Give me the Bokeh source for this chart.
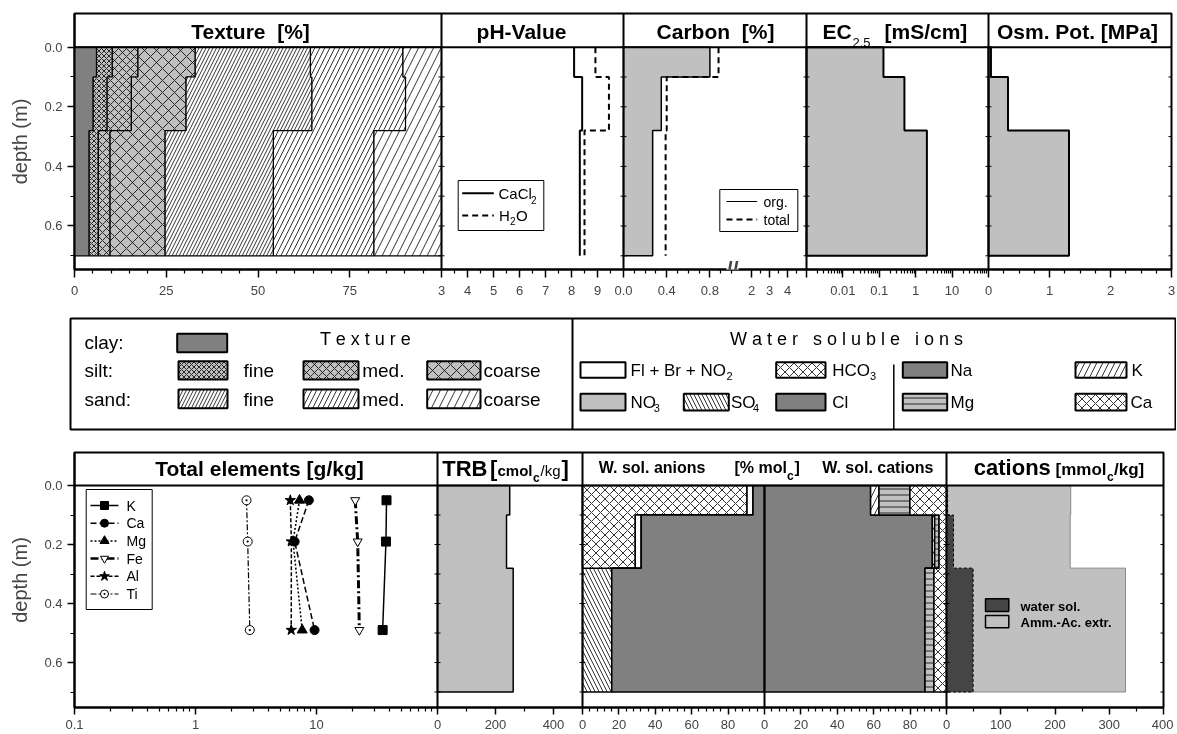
import json
import numpy as np
from bokeh.plotting import figure
from bokeh.models import (Range1d, LogScale, FixedTicker, CustomJSTickFormatter, Span, Label,
                          ColumnDataSource, InlineStyleSheet)
from bokeh.layouts import column
from bokeh.embed import file_html
from bokeh.resources import INLINE
from bokeh.core.properties import value

FONT = "Liberation Sans"
LG, DG, XG = "#c0c0c0", "#808080", "#454545"
NB = "\u00a0"

# ======================= DATA =======================
layer_top = [0.0, 0.1, 0.28]
layer_bot = [0.1, 0.28, 0.7]

# texture fractions [%] per layer
clay = [6.0, 5.1, 4.0]
silt_fine = [4.3, 3.8, 2.5]
silt_med = [7.0, 6.6, 3.2]
silt_coarse = [15.6, 14.9, 15.0]
sand_fine = [31.4, 34.3, 29.5]
sand_med = [25.2, 25.5, 27.4]
sand_coarse = [10.5, 9.8, 18.4]

ph_cacl2 = [8.10, 8.41, 8.32]
ph_h2o = [8.92, 9.44, 8.50]
c_org = [0.80, 0.35, 0.27]
c_total = [0.88, 0.40, 0.39]
ec25 = [0.13, 0.49, 2.03]
osm_pot = [0.04, 0.32, 1.32]

elem_depth = [0.05, 0.19, 0.49]
el_K = [37.9, 37.5, 35.2]
el_Ca = [8.65, 6.6, 9.64]
el_Mg = [7.24, 6.4, 7.62]
el_Fe = [20.9, 21.9, 22.6]
el_Al = [6.07, 6.2, 6.18]
el_Ti = [2.64, 2.7, 2.81]

trb = [249, 238, 261]

an_so4 = [0.0, 0.0, 16.1]
an_hco3 = [90.4, 29.0, 0.0]
an_flbrno2 = [3.3, 3.3, 0.0]
an_no3 = [0.0, 0.0, 0.0]
an_cl = [6.3, 67.7, 83.9]

cat_na = [58.3, 92.2, 88.2]
cat_k = [4.6, 1.3, 0.0]
cat_mg = [17.0, 2.4, 4.9]
cat_ca = [20.1, 4.1, 6.9]

cat_water = [2.0, 12.9, 49.0]
cat_ammac = [229.0, 228.0, 330.0]

# tick values
depth_major = [0.0, 0.2, 0.4, 0.6]
depth_minor = [0.1, 0.3, 0.5, 0.7]
tex_ticks = [0, 25, 50, 75]
ph_ticks = [3, 4, 5, 6, 7, 8, 9]
carb_ticks_lo = [0.0, 0.4, 0.8]
carb_ticks_hi = [2, 3, 4]
ec_ticks = [0.01, 0.1, 1, 10]
osm_ticks = [0, 1, 2, 3]
tot_ticks = [0.1, 1, 10]
trb_ticks = [0, 200, 400]
ion_ticks = [0, 20, 40, 60, 80]
cat_ticks = [0, 100, 200, 300, 400]

# ======================= GEOMETRY (page px) =======================
ROOT_X = 6
TOP_L, TOP_R = 74, 1171
BOT_L, BOT_R = 74, 1163
P_TEX = dict(a=0, b=100, L=74, R=441, log=False)
P_PH = dict(a=3, b=10, L=441, R=623, log=False)
P_CARB = dict(a=0, b=183 / 108, L=623, R=806, log=False)
P_CARBHI = dict(a=1, b=5, L=733, R=805, log=False)
P_EC = dict(a=0.001, b=100, L=806, R=988, log=True)
P_OSM = dict(a=0, b=3, L=988, R=1171, log=False)
P_TOT = dict(a=0.1, b=100, L=74, R=437, log=True)
P_TRB = dict(a=0, b=500, L=437, R=582, log=False)
P_ION = dict(a=0, b=200, L=582, R=946, log=False)
P_CAT = dict(a=0, b=400, L=946, R=1163, log=False)


def to_px(v, P):
    if P["log"]:
        f = (np.log10(v) - np.log10(P["a"])) / (np.log10(P["b"]) - np.log10(P["a"]))
    else:
        f = (v - P["a"]) / (P["b"] - P["a"])
    return float(P["L"] + f * (P["R"] - P["L"]))


def panel_range(P, F0, F1):
    if P["log"]:
        la, lb = np.log10(P["a"]), np.log10(P["b"])
        s = (lb - la) / (P["R"] - P["L"])
        return Range1d(float(10 ** (la - (P["L"] - F0) * s)), float(10 ** (lb + (F1 - P["R"]) * s)))
    s = (P["b"] - P["a"]) / (P["R"] - P["L"])
    return Range1d(float(P["a"] - (P["L"] - F0) * s), float(P["b"] + (F1 - P["R"]) * s))


def axis_ticks(major, minor):
    major = [(round(float(px), 2), lab) for px, lab in major]
    m = {f"{px:.2f}": lab for px, lab in major}
    ticker = FixedTicker(ticks=[px for px, _ in major], minor_ticks=[round(float(x), 2) for x in minor])
    fmt = CustomJSTickFormatter(code="const m = " + json.dumps(m) +
                                "; const k = tick.toFixed(2); return (k in m) ? m[k] : '';")
    return ticker, fmt


def step_xy(vals):
    xs, ys = [], []
    for v, t, b in zip(vals, layer_top, layer_bot):
        xs += [v, v]
        ys += [t, b]
    return xs, ys


def stacked_polys(series, base=0.0):
    cum = [base] * len(layer_top)
    out_x, out_y = [], []
    for s in series:
        new = [c + v for c, v in zip(cum, s)]
        rx, ry = step_xy(new)
        lx, ly = step_xy(cum)
        out_x.append(rx + lx[::-1])
        out_y.append(ry + ly[::-1])
        cum = new
    return out_x, out_y


def profile_poly(vals, base):
    sx, sy = step_xy(vals)
    return [base] + sx + [base], [layer_top[0]] + sy + [layer_bot[-1]]


def txt(p, x, y, s, size, bold=False, align="left", yr="py"):
    kw = dict(y_range_name=yr) if yr else {}
    p.text(x=[x], y=[y], text=[s], text_font=value(FONT), text_font_size=value(f"{size}px"),
           text_font_style="bold" if bold else "normal", text_align=align,
           text_baseline="middle", text_color="black", **kw)


def no_align(p):
    if "frame_align" in p.properties():
        p.frame_align = False


def style_axis(ax, standoff, tick_out=8):
    ax.axis_line_width = 2
    ax.axis_line_color = "black"
    ax.major_tick_line_width = 1.5
    ax.minor_tick_line_width = 1.2
    ax.major_tick_out = tick_out
    ax.major_tick_in = 0
    ax.minor_tick_out = 4
    ax.minor_tick_in = 0
    ax.major_label_text_font = FONT
    ax.major_label_text_font_size = "13px"
    ax.major_label_standoff = standoff


def base_fig(F0, F1, y0, y1, yr, left, right, top, bottom, standoff):
    p = figure(frame_width=F1 - F0, frame_height=y1 - y0, x_range=Range1d(F0, F1), y_range=yr,
               min_border_left=left, min_border_right=right, min_border_top=top,
               min_border_bottom=bottom, output_backend="svg", toolbar_location=None, title=None)
    no_align(p)
    p.grid.visible = False
    p.outline_line_color = "black"
    p.outline_line_width = 2
    p.background_fill_color = "white"
    p.border_fill_color = "white"
    p.extra_y_ranges = {"py": Range1d(y1, y0)}
    style_axis(p.xaxis[0], standoff)
    style_axis(p.yaxis[0], 5, 7)
    p.yaxis.ticker = FixedTicker(ticks=depth_major, minor_ticks=depth_minor)
    p.yaxis.formatter = CustomJSTickFormatter(code="return tick.toFixed(1);")
    p.yaxis.axis_label = "depth (m)"
    p.yaxis.axis_label_text_font = FONT
    p.yaxis.axis_label_text_font_size = "20px"
    p.yaxis.axis_label_text_font_style = "normal"
    p.yaxis.axis_label_standoff = 10
    return p


# ======================= TOP ROW =======================
top = base_fig(TOP_L, TOP_R, 13, 269, Range1d(0.746, -0.113), TOP_L - ROOT_X, 6, 5, 35, 8)
top.extra_x_ranges = {k: panel_range(P, TOP_L, TOP_R) for k, P in
                      [("tex", P_TEX), ("ph", P_PH), ("carb", P_CARB), ("ec", P_EC), ("osm", P_OSM)]}
top.extra_x_scales = {"ec": LogScale()}

tmaj, tmin = [], []
tmaj += [(to_px(v, P_TEX), str(v)) for v in tex_ticks]
tmin += [to_px(v, P_TEX) for v in range(5, 100, 5) if v % 25]
tmaj += [(to_px(v, P_PH), str(v)) for v in ph_ticks]
tmin += [to_px(v + 0.5, P_PH) for v in ph_ticks]
tmaj += [(to_px(v, P_CARB), f"{v:.1f}") for v in carb_ticks_lo]
tmin += [to_px(v / 10, P_CARB) for v in range(1, 11) if v not in (4, 8)]
tmaj += [(to_px(v, P_CARBHI), str(v)) for v in carb_ticks_hi]
tmin += [to_px(v + 0.5, P_CARBHI) for v in carb_ticks_hi]
tmaj += [(to_px(P_EC["a"], P_EC), "")]
tmaj += [(to_px(v, P_EC), f"{v:g}") for v in ec_ticks]
tmin += [to_px(k * 10.0 ** e, P_EC) for e in range(-3, 2) for k in range(2, 10)]
tmaj += [(to_px(v, P_OSM), str(v)) for v in osm_ticks]
tmin += [to_px(v / 4, P_OSM) for v in range(1, 12) if v % 4]
tk, tf = axis_ticks(tmaj, tmin)
top.xaxis.ticker = tk
top.xaxis.formatter = tf

# texture
tex_series = [clay, silt_fine, silt_med, silt_coarse, sand_fine, sand_med, sand_coarse]
tx, ty = stacked_polys(tex_series)
top.patches(xs="xs", ys="ys", x_range_name="tex",
            source=ColumnDataSource(dict(
                xs=tx, ys=ty,
                fill=[DG, LG, LG, LG, "white", "white", "white"],
                hatch=["blank", "diagonal_cross", "diagonal_cross", "diagonal_cross",
                       "right_diagonal_line", "right_diagonal_line", "right_diagonal_line"],
                hs=[1, 5, 8, 12, 7, 10, 15])),
            fill_color="fill", hatch_pattern="hatch", hatch_scale="hs", hatch_color="black",
            hatch_weight=0.8, line_color="black", line_width=1.2)

# pH
x, y = step_xy(ph_cacl2)
top.line(x, y, x_range_name="ph", line_color="black", line_width=2)
x, y = step_xy(ph_h2o)
top.line(x, y, x_range_name="ph", line_color="black", line_width=2, line_dash="6 4")

# carbon
x, y = profile_poly(c_org, P_CARB["a"])
top.patch(x, y, x_range_name="carb", fill_color=LG, line_color="black", line_width=1.5)
x, y = step_xy(c_total)
top.line(x, y, x_range_name="carb", line_color="black", line_width=2, line_dash="6 4")

# EC
x, y = profile_poly(ec25, P_EC["a"])
top.patch(x, y, x_range_name="ec", fill_color=LG, line_color="black", line_width=2)
# osmotic potential
x, y = profile_poly(osm_pot, P_OSM["a"])
top.patch(x, y, x_range_name="osm", fill_color=LG, line_color="black", line_width=2)

# frame furniture
top.add_layout(Span(location=0, dimension="width", line_color="black", line_width=2))
for B in (441, 623, 806, 988):
    top.add_layout(Span(location=B, dimension="height", line_color="black", line_width=2))
dt = depth_major + depth_minor
sx0, sx1, sy = [], [], []
for B in (441, 623, 806, 988):
    for d in dt:
        sx0.append(B - 3); sx1.append(B + 3); sy.append(d)
for d in dt:
    sx0.append(TOP_R - 3); sx1.append(TOP_R); sy.append(d)
top.segment(x0=sx0, y0=sy, x1=sx1, y1=sy, line_color="black", line_width=1)

top.add_layout(Label(x=to_px(1.0, P_CARB) + 1, y=269, y_range_name="py", text="//",
                     text_font=FONT, text_font_size="22px", text_font_style="bold",
                     text_align="center", text_baseline="middle", background_fill_color="white"))

# titles
txt(top, 250, 30.5, "Texture" + NB + NB + "[%]", 21, True, "center")
txt(top, 521, 30.5, "pH-Value", 21, True, "center")
txt(top, 715, 30.5, "Carbon" + NB + NB + "[%]", 21, True, "center")
txt(top, 822, 30.5, "EC", 21, True)
txt(top, 852, 42, "2.5", 13)
txt(top, 884, 30.5, "[mS/cm]", 21, True)
txt(top, 1077, 30.5, "Osm. Pot. [MPa]", 21, True, "center")

# pH legend
top.quad(left=[457.7], right=[543.3], top=[180], bottom=[230], y_range_name="py",
         fill_color="white", line_color="black", line_width=1)
top.line([461.7, 493.3], [192.7, 192.7], y_range_name="py", line_color="black", line_width=2)
top.line([461.7, 493.3], [215, 215], y_range_name="py", line_color="black", line_width=2, line_dash="6 4")
txt(top, 498, 192.7, "CaCl", 15)
txt(top, 530.5, 199.5, "2", 10)
txt(top, 498.5, 215, "H", 15)
txt(top, 509.5, 220.5, "2", 10)
txt(top, 515.5, 215, "O", 15)

# carbon legend
top.quad(left=[719.3], right=[797.3], top=[189], bottom=[231], y_range_name="py",
         fill_color="white", line_color="black", line_width=1)
top.line([726, 756.7], [201, 201], y_range_name="py", line_color="black", line_width=1)
top.line([726, 756.7], [219, 219], y_range_name="py", line_color="black", line_width=2, line_dash="6 4")
txt(top, 763, 201, "org.", 14)
txt(top, 763, 219, "total", 14)

# ======================= LEGEND BOX =======================
leg = figure(frame_width=1105, frame_height=111, x_range=Range1d(70, 1175), y_range=Range1d(429, 318),
             min_border_left=70 - ROOT_X, min_border_right=1, min_border_top=14, min_border_bottom=2,
             x_axis_location=None, y_axis_location=None, output_backend="svg",
             toolbar_location=None, title=None)
no_align(leg)
leg.grid.visible = False
leg.outline_line_color = "black"
leg.outline_line_width = 2
sw = dict(left=[], right=[], top=[], bottom=[], fill=[], hatch=[], hs=[])


def add_sw(l, r, t, b, fill, hatch="blank", hs=1):
    for k, v in zip(["left", "right", "top", "bottom", "fill", "hatch", "hs"], [l, r, t, b, fill, hatch, hs]):
        sw[k].append(v)


add_sw(176.7, 226.7, 333.3, 351.7, DG)
for (l, r), h in zip([(178, 227), (303, 358), (426.7, 480)], [5, 8, 12]):
    add_sw(l, r, 360.7, 379, LG, "diagonal_cross", h)
for (l, r), h in zip([(178, 227), (303, 358), (426.7, 480)], [7, 10, 15]):
    add_sw(l, r, 389, 407.7, "white", "right_diagonal_line", h)
R1, R2 = (361.7, 377.3), (393.3, 410)
add_sw(580, 625, *R1, "white")
add_sw(775.7, 825, *R1, "white", "diagonal_cross", 9)
add_sw(580, 625, *R2, LG)
add_sw(683.3, 728.3, *R2, "white", "left_diagonal_line", 8)
add_sw(775.7, 825, *R2, DG)
add_sw(902.3, 946.7, *R1, DG)
add_sw(1075, 1126, *R1, "white", "right_diagonal_line", 12)
add_sw(902.3, 946.7, *R2, LG, "horizontal_line", 6)
add_sw(1075, 1126, *R2, "white", "diagonal_cross", 9)
leg.quad(left="left", right="right", top="top", bottom="bottom", source=ColumnDataSource(sw),
         fill_color="fill", hatch_pattern="hatch", hatch_scale="hs", hatch_color="black",
         hatch_weight=0.8, line_color="black", line_width=2)
leg.segment(x0=[572], y0=[318], x1=[572], y1=[429], line_color="black", line_width=2)
leg.segment(x0=[893.3], y0=[364], x1=[893.3], y1=[429], line_color="black", line_width=1.5)

txt(leg, 365, 338, "T e x t u r e", 18, False, "center", None)
txt(leg, 84, 342, "clay:", 19, yr=None)
txt(leg, 84, 370, "silt:", 19, yr=None)
txt(leg, 84, 398.5, "sand:", 19, yr=None)
for yy in (370, 398.5):
    txt(leg, 243, yy, "fine", 19, yr=None)
    txt(leg, 361.7, yy, "med.", 19, yr=None)
    txt(leg, 483, yy, "coarse", 19, yr=None)
ws = (NB * 3).join(" ".join(w) for w in ["Water", "soluble", "ions"])
txt(leg, 846, 338, ws, 18, False, "center", None)
txt(leg, 630, 369.5, "Fl + Br + NO", 17, yr=None)
txt(leg, 726, 375.5, "2", 11, yr=None)
txt(leg, 831.7, 369.5, "HCO", 17, yr=None)
txt(leg, 869.5, 375.5, "3", 11, yr=None)
txt(leg, 630, 401.5, "NO", 17, yr=None)
txt(leg, 653.3, 407.5, "3", 11, yr=None)
txt(leg, 730.5, 401.5, "SO", 17, yr=None)
txt(leg, 752.5, 407.5, "4", 11, yr=None)
txt(leg, 831.7, 401.5, "Cl", 17, yr=None)
txt(leg, 950, 369.5, "Na", 17, yr=None)
txt(leg, 950, 401.5, "Mg", 17, yr=None)
txt(leg, 1131, 369.5, "K", 17, yr=None)
txt(leg, 1130, 401.5, "Ca", 17, yr=None)

# ======================= BOTTOM ROW =======================
bot = base_fig(BOT_L, BOT_R, 452, 707, Range1d(0.7525, -0.112), BOT_L - ROOT_X, 10, 21, 27, 5)
bot.extra_x_ranges = {k: panel_range(P, BOT_L, BOT_R) for k, P in
                      [("tot", P_TOT), ("trb", P_TRB), ("ion", P_ION), ("cat", P_CAT)]}
bot.extra_x_scales = {"tot": LogScale()}

bmaj, bmin = [], []
bmaj += [(to_px(v, P_TOT), f"{v:g}") for v in tot_ticks]
bmin += [to_px(k * 10.0 ** e, P_TOT) for e in range(-1, 2) for k in range(2, 10)]
bmaj += [(to_px(v, P_TRB), str(v)) for v in trb_ticks]
bmin += [to_px(v, P_TRB) for v in (100, 300)]
for off in (0, 100):
    bmaj += [(to_px(v + off, P_ION), str(v)) for v in ion_ticks]
bmin += [to_px(v, P_ION) for v in range(4, 200, 4) if v % 20]
bmaj += [(to_px(v, P_CAT), str(v)) for v in cat_ticks]
bmin += [to_px(v, P_CAT) for v in (50, 150, 250, 350)]
bk, bf = axis_ticks(bmaj, bmin)
bot.xaxis.ticker = bk
bot.xaxis.formatter = bf
bot.xaxis.major_tick_out = 7

# total elements
elems = [("K", el_K, "square", "black", "solid", 1.5, 9),
         ("Ca", el_Ca, "circle", "black", "6 3", 1.5, 9),
         ("Mg", el_Mg, "triangle", "black", "2 2", 1.5, 10),
         ("Fe", el_Fe, "inverted_triangle", "white", "8 3 2 3", 3, 9),
         ("Al", el_Al, "star", "black", "4 2", 1.5, 11),
         ("Ti", el_Ti, "circle_dot", "white", "6 2 2 2", 1.2, 9)]
for i, (name, vals, mk, mf, dash, lw, sz) in enumerate(elems):
    bot.line(vals, elem_depth, x_range_name="tot", line_color="black", line_width=lw, line_dash=dash)
    bot.scatter(vals, elem_depth, x_range_name="tot", marker=mk, size=sz, fill_color=mf,
                line_color="black", line_width=1)
bot.quad(left=[85.7], right=[151.7], top=[489], bottom=[609], y_range_name="py",
         fill_color="white", line_color="black", line_width=1)
for i, (name, vals, mk, mf, dash, lw, sz) in enumerate(elems):
    yy = 505 + i * 17.7
    bot.line([90, 118], [yy, yy], y_range_name="py", line_color="black",
             line_width=min(lw, 2.5), line_dash=dash)
    bot.scatter([104], [yy], y_range_name="py", marker=mk, size=sz - 1, fill_color=mf,
                line_color="black", line_width=1)
    txt(bot, 126, yy, name, 14)

# TRB
x, y = profile_poly(trb, P_TRB["a"])
bot.patch(x, y, x_range_name="trb", fill_color=LG, line_color="black", line_width=1.5)

# anions / cations [% mol_c]
ax_, ay_ = stacked_polys([an_so4, an_hco3, an_flbrno2, an_no3, an_cl], 0.0)
cx_, cy_ = stacked_polys([cat_na, cat_k, cat_mg, cat_ca], 100.0)
bot.patches(xs="xs", ys="ys", x_range_name="ion",
            source=ColumnDataSource(dict(
                xs=ax_ + cx_, ys=ay_ + cy_,
                fill=["white", "white", "white", LG, DG, DG, "white", LG, "white"],
                hatch=["left_diagonal_line", "diagonal_cross", "blank", "blank", "blank",
                       "blank", "right_diagonal_line", "horizontal_line", "diagonal_cross"],
                hs=[8, 9, 1, 1, 1, 1, 12, 6, 9])),
            fill_color="fill", hatch_pattern="hatch", hatch_scale="hs", hatch_color="black",
            hatch_weight=0.8, line_color="black", line_width=1.5)
bot.segment(x0=[100], y0=[0.0], x1=[100], y1=[0.7525], x_range_name="ion",
            line_color="black", line_width=2)

# cations [mmol_c/kg]
x, y = profile_poly(cat_ammac, P_CAT["a"])
bot.patch(x, y, x_range_name="cat", fill_color=LG, line_color="#8a8a8a", line_width=1)
x, y = profile_poly(cat_water, P_CAT["a"])
bot.patch(x, y, x_range_name="cat", fill_color=XG, line_color="black", line_width=1, line_dash="3 2")
bot.quad(left=[985, 985], right=[1008.3, 1008.3], top=[598.3, 615], bottom=[611, 627.3],
         y_range_name="py", fill_color=[XG, LG], line_color="black", line_width=1.5)
txt(bot, 1020, 606, "water sol.", 13, True)
txt(bot, 1020, 621.7, "Amm.-Ac. extr.", 13, True)

bot.add_layout(Span(location=0, dimension="width", line_color="black", line_width=2))
for B in (437, 582, 946):
    bot.add_layout(Span(location=B, dimension="height", line_color="black", line_width=2))
sx0, sx1, sy = [], [], []
for B in (437, 582, 946):
    for d in dt:
        sx0.append(B - 3); sx1.append(B + 3); sy.append(d)
for d in dt:
    sx0.append(BOT_R - 3); sx1.append(BOT_R); sy.append(d)
bot.segment(x0=sx0, y0=sy, x1=sx1, y1=sy, line_color="black", line_width=1)

# titles
txt(bot, 259, 468, "Total elements [g/kg]", 21, True, "center")
txt(bot, 441.7, 467.5, "TRB", 22, True)
txt(bot, 489.5, 467.5, "[", 22, True)
txt(bot, 497, 469.5, "cmol", 15, True)
txt(bot, 532.5, 477, "c", 12, True)
txt(bot, 540, 469.5, "/kg", 15)
txt(bot, 561, 467.5, "]", 22, True)
txt(bot, 598.3, 467, "W. sol. anions", 16, True)
txt(bot, 734, 467, "[% mol", 16, True)
txt(bot, 786.5, 475, "c", 12, True)
txt(bot, 794, 467, "]", 16, True)
txt(bot, 821.7, 467, "W. sol. cations", 16, True)
txt(bot, 973.3, 467, "cations", 22, True)
txt(bot, 1055, 468.5, "[mmol", 17, True)
txt(bot, 1106.5, 476, "c", 12, True)
txt(bot, 1113.5, 468.5, "/kg]", 17, True)

layout = column(top, leg, bot, stylesheets=[InlineStyleSheet(
    css=":host { position: fixed !important; left: %dpx !important; top: 8px !important; }" % ROOT_X)])
open("out.html", "w").write(file_html(layout, INLINE, title="soil profile"))
